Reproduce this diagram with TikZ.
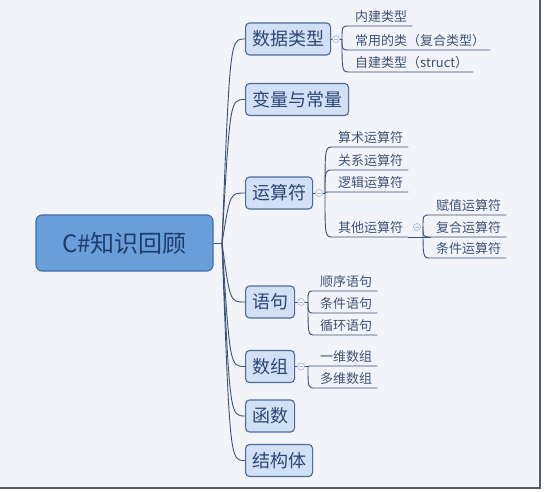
\documentclass[tikz,border=0pt]{standalone}
\usepackage{fontspec}
\setmainfont{Noto Sans CJK SC}
\usepackage{xcolor}
\definecolor{bgcol}{HTML}{F3F4F9}
\definecolor{boxfill}{HTML}{D2E0F6}
\definecolor{boxline}{HTML}{4A6A9A}
\definecolor{rootfill}{HTML}{6A9EDB}
\definecolor{rootline}{HTML}{3F6EA6}
\definecolor{roottext}{HTML}{1E3D6E}
\definecolor{topictext}{HTML}{2C4674}
\definecolor{leaftext}{HTML}{3E5377}
\definecolor{linkcol}{HTML}{3C5275}
\definecolor{foldcol}{HTML}{A7BCDD}
\definecolor{framecol}{HTML}{5A5D63}

\begin{document}
\begin{tikzpicture}[x=1pt,y=-1pt,
		link/.style={draw=linkcol,line width=0.9pt},
		roottopic/.style={draw=rootline,fill=rootfill,line width=1.1pt,rounded corners=6pt,
			minimum width=177pt,minimum height=56pt,text=roottext,font=\fontsize{24}{26}\selectfont},
		topic/.style={draw=boxline,fill=boxfill,line width=1.1pt,rounded corners=4pt,anchor=west,
			inner xsep=6.5pt,minimum height=32pt,text=topictext,font=\fontsize{18}{20}\selectfont},
		leaf/.style={anchor=south west,inner xsep=5pt,inner ysep=1.6pt,text height=10pt,text depth=3pt,
			text=leaftext,font=\fontsize{13}{15}\selectfont},
		fold/.style={circle,draw=foldcol,fill=bgcol!60!white,line width=0.7pt,minimum size=7pt,inner sep=0pt,
			path picture={\draw[foldcol,line width=0.7pt] ([xshift=1.6pt]path picture bounding box.west) -- ([xshift=-1.6pt]path picture bounding box.east);}}]
		
		% canvas and frame
		\useasboundingbox (0,0) rectangle (546,492);
		\fill[bgcol] (0,0) rectangle (540,488);
		\draw[framecol,line width=1.6pt] (540,0) -- (540,488) -- (0,488);
		
		% central topic
		\node[roottopic] (root) at (124.5,243) {C\#知识回顾};
		\coordinate (rj) at (222,243);
		\coordinate (rc) at (230,243);
		
		% main topics
		\node[topic] (dt) at (245,39) {数据类型};
		\node[topic] (bl) at (245,99.5) {变量与常量};
		\node[topic] (ys) at (245,193) {运算符};
		\node[topic] (yj) at (245,302) {语句};
		\node[topic] (sz) at (245,366.5) {数组};
		\node[topic] (hs) at (245,416) {函数};
		\node[topic] (jg) at (245,460.5) {结构体};
		
		\draw[link] (root.east) -- (rj);
		\foreach \n in {dt,bl,ys,yj,sz,hs,jg}
			\draw[link] (rj) .. controls (rc |- \n.west) .. (\n.west);
		
		% data types
		\coordinate (j1) at (342,39);
		\node[leaf] (nj) at (350,26) {内建类型};
		\node[leaf] (cy) at (350,50) {常用的类（复合类型）};
		\node[leaf] (zj) at (350,72) {自建类型（struct）};
		\foreach \n in {nj,cy,zj}
			\draw[link] (j1) .. controls (j1 |- \n.south west) .. (\n.south west) -- (\n.south east);
		\draw[link] (dt.east) -- (j1);
		\node[fold] (f1) at (336,39) {};
		
		% operators
		\coordinate (j3) at (325,193);
		\node[leaf] (ss) at (333,147) {算术运算符};
		\node[leaf] (gx) at (333,170) {关系运算符};
		\node[leaf] (lj) at (333,192) {逻辑运算符};
		\node[leaf] (qt) at (333,237) {其他运算符};
		\foreach \n in {ss,gx,lj,qt}
			\draw[link] (j3) .. controls (j3 |- \n.south west) .. (\n.south west) -- (\n.south east);
		\draw[link] (ys.east) -- (j3);
		\node[fold] (f3) at (319,193) {};
		
		\coordinate (j3b) at (423,227);
		\node[leaf] (fz) at (431,215) {赋值运算符};
		\node[leaf] (fh) at (431,237) {复合运算符};
		\node[leaf] (tj) at (431,258) {条件运算符};
		\foreach \n in {fz,fh,tj}
			\draw[link] (j3b) .. controls (j3b |- \n.south west) .. (\n.south west) -- (\n.south east);
		\draw[link] (qt.south east) -- (fh.south west);
		\node[fold] (f3b) at (417,227) {};
		
		% statements
		\coordinate (j4) at (308,302);
		\node[leaf] (sx) at (315,291) {顺序语句};
		\node[leaf] (tjy) at (315,313) {条件语句};
		\node[leaf] (xh) at (315,335) {循环语句};
		\foreach \n in {sx,tjy,xh}
			\draw[link] (j4) .. controls (j4 |- \n.south west) .. (\n.south west) -- (\n.south east);
		\draw[link] (yj.east) -- (j4);
		\node[fold] (f4) at (301,302) {};
		
		% arrays
		\coordinate (j5) at (308,366.5);
		\node[leaf] (yw) at (315,366) {一维数组};
		\node[leaf] (dw) at (315,388) {多维数组};
		\foreach \n in {yw,dw}
			\draw[link] (j5) .. controls (j5 |- \n.south west) .. (\n.south west) -- (\n.south east);
		\draw[link] (sz.east) -- (j5);
		\node[fold] (f5) at (301,366.5) {};
	\end{tikzpicture}
\end{document}
